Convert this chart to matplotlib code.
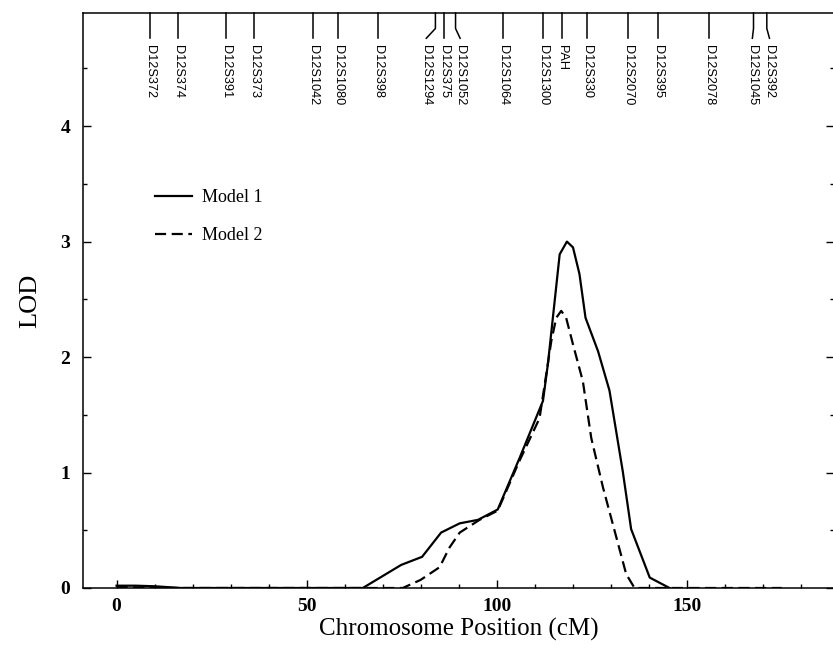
import matplotlib
matplotlib.use("Agg")
import matplotlib.pyplot as plt
import matplotlib.transforms as mtransforms
from matplotlib.ticker import MultipleLocator

# LOD curves along chromosome 12 (cM)
model1_pos = [0, 5, 10, 17, 30, 40, 50, 60, 64.8, 74.9, 80.4, 85.4, 90.3, 95.1,
              100.3, 106.1, 112.2, 113.5, 116.6, 118.5, 120.1, 121.8, 123.4,
              126.7, 129.7, 133.2, 135.4, 140.3, 145.5]
model1_lod = [0.02, 0.02, 0.015, 0.0, 0.0, 0.0, 0.0, 0.0, 0.0, 0.2, 0.27, 0.48,
              0.56, 0.59, 0.68, 1.13, 1.62, 1.94, 2.89, 3.0, 2.95, 2.72, 2.34,
              2.05, 1.71, 1.01, 0.51, 0.09, 0.0]

model2_pos = [0, 10, 20, 30, 40, 50, 60, 70, 75.3, 80, 85, 87.6, 90.3, 95.5,
              100.3, 106, 111.3, 114.4, 115.7, 117.0, 118.3, 120.1, 122.7,
              124.9, 128.0, 131.5, 134.1, 136.3, 145, 160, 175]
model2_lod = [0.01, 0.0, 0.0, 0.0, 0.0, 0.0, 0.0, 0.0, 0.0, 0.07, 0.18, 0.35,
              0.48, 0.59, 0.67, 1.10, 1.47, 2.14, 2.34, 2.40, 2.34, 2.11, 1.79,
              1.30, 0.87, 0.44, 0.12, 0.0, 0.0, 0.0, 0.0]

# marker map along the top
marker_names = ["D12S372", "D12S374", "D12S391", "D12S373", "D12S1042",
                "D12S1080", "D12S398", "D12S1294", "D12S375", "D12S1052",
                "D12S1064", "D12S1300", "PAH", "D12S330", "D12S2070",
                "D12S395", "D12S2078", "D12S1045", "D12S392"]
marker_pos = [8.7, 16.3, 28.7, 36.1, 51.8, 58.4, 68.7, 83.9, 86.1, 89.2,
              101.6, 112.1, 117.1, 123.7, 134.7, 142.6, 155.8, 167.6, 171.1]

# crowded labels get nudged sideways (cM)
label_shift = {"D12S1294": -2.4, "D12S1052": 1.2, "D12S1045": -0.3, "D12S392": 0.7}

serif = "Liberation Serif"

fig = plt.figure(figsize=(8.33, 6.49), dpi=100)
ax = fig.add_axes([0.0993, 0.094, 0.902, 0.886])

ax.plot(model1_pos, model1_lod, color="black", lw=1.6, label="Model 1")
ax.plot(model2_pos, model2_lod, color="black", lw=1.6, dashes=(5, 2.5), label="Model 2")

ax.set_xlim(-8.9, 188.8)
ax.set_ylim(0, 4.98)

ax.xaxis.set_major_locator(MultipleLocator(50))
ax.xaxis.set_minor_locator(MultipleLocator(10))
ax.yaxis.set_major_locator(MultipleLocator(1))
ax.yaxis.set_minor_locator(MultipleLocator(0.5))
ax.tick_params(which="both", direction="in", top=False, right=True, width=1)
ax.tick_params(which="major", length=5.5)
ax.tick_params(which="minor", length=3)
ax.tick_params(axis="x", pad=7)
ax.tick_params(axis="y", pad=9)
for lab in ax.get_xticklabels() + ax.get_yticklabels():
    lab.set_fontfamily(serif)
    lab.set_fontweight("bold")
    lab.set_fontsize(14)
for sp in ax.spines.values():
    sp.set_linewidth(1.1)

ax.set_xlabel("Chromosome Position (cM)", fontfamily=serif, fontsize=18, labelpad=2)
ax.set_ylabel("LOD", fontfamily=serif, fontsize=19, labelpad=14)

# marker ticks hanging from the top frame
trans = mtransforms.blended_transform_factory(ax.transData, ax.transAxes)
for name, pos in zip(marker_names, marker_pos):
    shift = label_shift.get(name, 0)
    if shift:
        xs = [pos, pos, pos + shift]
        ys = [1.0, 0.973, 0.956]
    else:
        xs = [pos, pos]
        ys = [1.0, 0.956]
    ax.plot(xs, ys, color="black", lw=1.1, transform=trans, clip_on=False)
    ax.text(pos + shift, 0.945, name, rotation=270, ha="center", va="top",
            fontsize=9.2, fontfamily="Liberation Sans", transform=trans)

leg = ax.legend(loc="upper left", bbox_to_anchor=(0.074, 0.722), frameon=False,
                prop={"family": serif, "size": 13}, handlelength=2.1,
                handletextpad=0.5, labelspacing=1.18)

fig.savefig("out.png", dpi=100)
